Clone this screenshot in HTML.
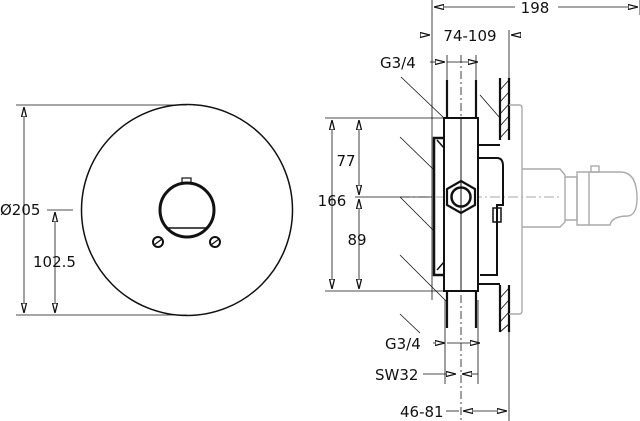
<!DOCTYPE html>
<html><head><style>
html,body{margin:0;padding:0;background:#fff;}
svg{display:block;}
text{font-family:"DejaVu Sans","Liberation Sans",sans-serif;font-size:15px;fill:#111;}
</style></head><body>
<svg width="640" height="421" viewBox="0 0 640 421" xmlns="http://www.w3.org/2000/svg">
<defs>
<marker id="a" viewBox="0 0 10 6" refX="10" refY="3" markerWidth="10" markerHeight="6" orient="auto-start-reverse" markerUnits="userSpaceOnUse">
<path d="M0,0.5 L10,3 L0,5.5 Z" fill="#fff" stroke="#111" stroke-width="1.3"/>
</marker>
</defs>
<g stroke="#111" fill="none">
<circle cx="187" cy="210" r="105.5" stroke-width="1.5"/>
<circle cx="187" cy="210" r="27" stroke-width="3"/>
<line x1="166" y1="228" x2="208" y2="228" stroke-width="1.5"/>
<rect x="182" y="178" width="9" height="5" stroke-width="1.2"/>
<circle cx="158" cy="242" r="5" stroke-width="2"/><line x1="154" y1="245" x2="162" y2="239" stroke-width="1.3"/>
<circle cx="215" cy="242" r="5" stroke-width="2"/><line x1="211" y1="245" x2="219" y2="239" stroke-width="1.3"/>
<g stroke-width="0.8">
<line x1="16" y1="105" x2="187" y2="105"/><line x1="16" y1="315" x2="187" y2="315"/>
<line x1="47" y1="210" x2="73" y2="210"/>
<line x1="24" y1="107" x2="24" y2="313" marker-start="url(#a)" marker-end="url(#a)"/>
<line x1="55" y1="212" x2="55" y2="313" marker-start="url(#a)" marker-end="url(#a)"/>
<line x1="432" y1="0" x2="432" y2="300"/>
<line x1="640" y1="0" x2="640" y2="15"/>
<line x1="434" y1="7" x2="515" y2="7" marker-start="url(#a)"/>
<line x1="558" y1="7" x2="638" y2="7" marker-end="url(#a)"/>
<line x1="420" y1="35" x2="430" y2="35" marker-end="url(#a)"/>
<line x1="521" y1="35" x2="511" y2="35" marker-end="url(#a)"/>
<line x1="509" y1="30" x2="509" y2="80"/>
<line x1="430" y1="62" x2="445" y2="62" marker-end="url(#a)"/>
<line x1="447" y1="62" x2="478" y2="62" marker-end="url(#a)"/>
<line x1="447" y1="55" x2="447" y2="110"/><line x1="476" y1="55" x2="476" y2="110"/>
<line x1="461" y1="55" x2="461" y2="421" stroke-dasharray="8 3 2 3"/>
<line x1="400" y1="197" x2="560" y2="197" stroke-dasharray="10 3 2 3" stroke="#888"/>
<line x1="325" y1="118" x2="444" y2="118"/><line x1="325" y1="291" x2="444" y2="291"/>
<line x1="332" y1="120" x2="332" y2="289" marker-start="url(#a)" marker-end="url(#a)"/>
<line x1="359" y1="120" x2="359" y2="195" marker-start="url(#a)" marker-end="url(#a)"/>
<line x1="359" y1="199" x2="359" y2="289" marker-start="url(#a)" marker-end="url(#a)"/>
<line x1="355" y1="197" x2="432" y2="197"/>
<line x1="433" y1="343" x2="445" y2="343" marker-end="url(#a)"/>
<line x1="447" y1="343" x2="480" y2="343" marker-end="url(#a)"/>
<line x1="445" y1="300" x2="445" y2="384"/><line x1="478" y1="300" x2="478" y2="384"/>
<line x1="423" y1="374" x2="456" y2="374" marker-end="url(#a)"/>
<line x1="462" y1="374" x2="478" y2="374" marker-start="url(#a)"/>
<line x1="446" y1="411" x2="459" y2="411"/>
<line x1="463" y1="411" x2="507" y2="411" marker-start="url(#a)" marker-end="url(#a)"/>
<line x1="509" y1="330" x2="509" y2="421"/>
<line x1="401" y1="77" x2="444" y2="118"/>
<line x1="480" y1="95" x2="500" y2="118"/>
<line x1="400" y1="137" x2="433" y2="169"/>
<line x1="400" y1="197" x2="433" y2="230"/>
<line x1="400" y1="255" x2="446" y2="301"/>
<line x1="400" y1="314" x2="420" y2="333"/>
</g>
<g stroke-width="2.2">
<line x1="447" y1="80" x2="447" y2="118"/><line x1="476" y1="80" x2="476" y2="118"/>
<line x1="447" y1="291" x2="447" y2="328"/><line x1="476" y1="291" x2="476" y2="328"/>
<line x1="500" y1="78" x2="500" y2="140"/><line x1="509" y1="78" x2="509" y2="140"/>
<line x1="500" y1="285" x2="500" y2="332"/><line x1="509" y1="285" x2="509" y2="332"/>
</g>
<g stroke-width="0.9">
<line x1="500" y1="90" x2="509" y2="80"/><line x1="500" y1="102" x2="509" y2="92"/><line x1="500" y1="114" x2="509" y2="104"/><line x1="500" y1="126" x2="509" y2="116"/><line x1="500" y1="138" x2="509" y2="128"/>
<line x1="500" y1="298" x2="509" y2="288"/><line x1="500" y1="310" x2="509" y2="300"/><line x1="500" y1="322" x2="509" y2="312"/><line x1="500" y1="332" x2="509" y2="324"/>
</g>
<g stroke="#aaa" stroke-width="1.4">
<path d="M509,105 H519 Q522,105 522,108 V311 Q522,314 519,314 H509"/>
<path d="M522,169 H560 L565,175 V222 L560,227 H522"/>
<path d="M565,177 H577 V220 H565"/>
<path d="M577,172 H620 Q637,172 637,198 Q637,215 628,216 Q612,216 610,225 H577 Z"/>
<line x1="589" y1="172" x2="589" y2="225"/>
<rect x="591" y="166" width="8" height="6"/>
</g>
<g stroke-width="2">
<rect x="444" y="118" width="34" height="173" fill="#fff"/>
<path d="M478,145 V158 H497 Q503,158 503,166 V205 H497 V275 H480"/>
<path d="M478,145 H500 M478,284 H500"/>
<path d="M444,138 H434 V275 H444" stroke-width="2.5"/>
<path d="M437,140 L444,148 M437,270 L444,262" stroke-width="1.5"/>
<polygon points="461,181 475,189 475,205 461,213 447,205 447,189" fill="#fff" stroke-width="2.2"/>
<circle cx="461" cy="197" r="9.5" stroke-width="2.5"/>
<rect x="493" y="208" width="8" height="14" stroke-width="1.5"/>
</g>
<line x1="461" y1="118" x2="461" y2="291" stroke-width="1"/>
</g>
<text x="0" y="215">Ø205</text>
<text x="33" y="267">102.5</text>
<text x="535" y="13" text-anchor="middle">198</text>
<text x="470" y="41" text-anchor="middle">74-109</text>
<text x="380" y="68">G3/4</text>
<text x="346" y="166" text-anchor="middle">77</text>
<text x="332" y="206" text-anchor="middle">166</text>
<text x="357" y="245" text-anchor="middle">89</text>
<text x="385" y="349">G3/4</text>
<text x="375" y="380">SW32</text>
<text x="400" y="417">46-81</text>
</svg>
</body></html>
